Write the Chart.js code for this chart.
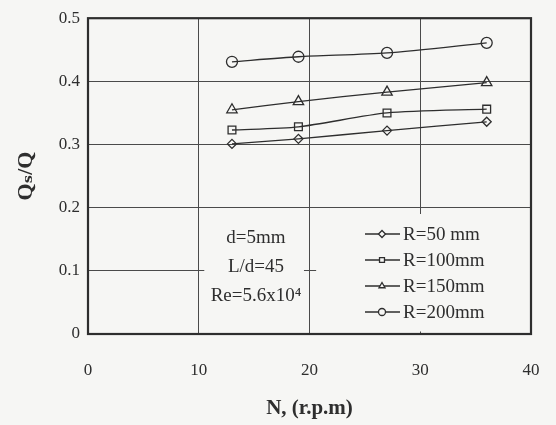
<!DOCTYPE html>
<html>
<head>
<meta charset="utf-8">
<script src="https://cdn.jsdelivr.net/npm/chart.js@4/dist/chart.umd.min.js"></script>
<style>
  html, body { margin: 0; padding: 0; background: #f6f6f4; }
  #wrap { width: 556px; height: 425px; position: relative; }
</style>
</head>
<body>
<div id="wrap"><canvas id="chart" width="556" height="425"></canvas></div>
<script>
// rotational speed N (r.p.m)
const speeds = [13, 19, 27, 36];

// Qs/Q for each radius
const r50 = [0.301, 0.309, 0.322, 0.336];
const r100 = [0.323, 0.328, 0.350, 0.356];
const r150 = [0.355, 0.368, 0.383, 0.398];
const r200 = [0.431, 0.439, 0.445, 0.461];

const seriesNames = ['R=50 mm', 'R=100mm', 'R=150mm', 'R=200mm'];
const notes = ['d=5mm', 'L/d=45', 'Re=5.6x10\u2074'];

const ink = '#2e2e2e';
const paper = '#f6f6f4';
const serif = '"Liberation Serif", "DejaVu Serif", serif';

const makeSet = (label, values, style, radius) => ({
    label,
    data: speeds.map((x, i) => ({ x, y: values[i] })),
    borderColor: ink,
    borderWidth: 1.3,
    backgroundColor: 'transparent',
    pointStyle: style,
    pointRadius: radius,
    pointBorderColor: ink,
    pointBorderWidth: 1.3,
    pointBackgroundColor: 'transparent',
    tension: 0.25
});

// white-out patches behind the notes and legend, then the frame
const overlayPlugin = {
    id: 'overlay',
    beforeDatasetsDraw(chart) {
        const { ctx, scales: { x, y } } = chart;
        ctx.save();
        ctx.fillStyle = paper;
        ctx.fillRect(x.getPixelForValue(10.5), y.getPixelForValue(0.17),
            x.getPixelForValue(19.5) - x.getPixelForValue(10.5), y.getPixelForValue(0.03) - y.getPixelForValue(0.17));
        ctx.fillRect(x.getPixelForValue(20.6), y.getPixelForValue(0.19),
            x.getPixelForValue(40) - 1 - x.getPixelForValue(20.6), y.getPixelForValue(0.004) - y.getPixelForValue(0.19));
        ctx.restore();
    },
    afterDraw(chart) {
        const { ctx, chartArea: a } = chart;
        ctx.save();
        ctx.strokeStyle = ink;
        ctx.lineWidth = 2.2;
        ctx.strokeRect(a.left, a.top, a.right - a.left, a.bottom - a.top);

        ctx.font = '19px ' + serif;
        ctx.textBaseline = 'middle';

        // notes
        ctx.fillStyle = ink;
        ctx.textAlign = 'center';
        notes.forEach((t, i) => ctx.fillText(t, 256, 238 + i * 29));

        // legend
        const rows = [234, 260, 286, 312];
        ctx.textAlign = 'left';
        chart.data.datasets.forEach((ds, i) => {
            const yy = rows[i];
            ctx.lineWidth = 1.3;
            ctx.beginPath();
            ctx.moveTo(365, yy);
            ctx.lineTo(400, yy);
            ctx.stroke();
            ctx.fillStyle = paper;
            Chart.helpers.drawPoint(ctx, {
                pointStyle: ds.pointStyle, radius: 3.5, rotation: 0, borderWidth: 1.2
            }, 382, yy);
            ctx.fillStyle = ink;
            ctx.fillText(seriesNames[i], 403, yy + 1);
        });
        ctx.restore();
    }
};

const tickFont = { family: serif, size: 17 };

new Chart(document.getElementById('chart'), {
    type: 'line',
    data: {
        datasets: [
            makeSet(seriesNames[0], r50, 'rectRot', 4.5),
            makeSet(seriesNames[1], r100, 'rect', 5.5),
            makeSet(seriesNames[2], r150, 'triangle', 6),
            makeSet(seriesNames[3], r200, 'circle', 5.5)
        ]
    },
    options: {
        responsive: false,
        animation: false,
        layout: { padding: { top: 16, right: 25, left: 0, bottom: 0 } },
        plugins: {
            legend: { display: false },
            tooltip: { enabled: false }
        },
        scales: {
            x: {
                type: 'linear',
                min: 0,
                max: 40,
                ticks: { stepSize: 10, color: ink, font: tickFont, padding: 26, maxRotation: 0 },
                grid: { color: '#4a4a4a', lineWidth: 1, drawTicks: false },
                border: { display: false },
                title: {
                    display: true,
                    text: 'N, (r.p.m)',
                    color: ink,
                    font: { family: serif, size: 21, weight: 'bold' },
                    padding: { top: 8 }
                },
                afterFit(scale) {
                    scale.height = 91;
                    scale.paddingRight = 0;
                    scale.paddingLeft = 0;
                }
            },
            y: {
                min: 0,
                max: 0.5,
                ticks: {
                    stepSize: 0.1,
                    color: ink,
                    font: tickFont,
                    padding: 8,
                    callback: v => Number(v.toFixed(1)).toString()
                },
                grid: { color: '#4a4a4a', lineWidth: 1, drawTicks: false },
                border: { display: false },
                title: {
                    display: true,
                    text: 'Q\u209B/Q',
                    color: ink,
                    font: { family: serif, size: 22, weight: 'bold' },
                    padding: { top: 13, bottom: 4 }
                },
                afterFit(scale) { scale.width = 88; }
            }
        }
    },
    plugins: [overlayPlugin]
});
</script>
</body>
</html>
